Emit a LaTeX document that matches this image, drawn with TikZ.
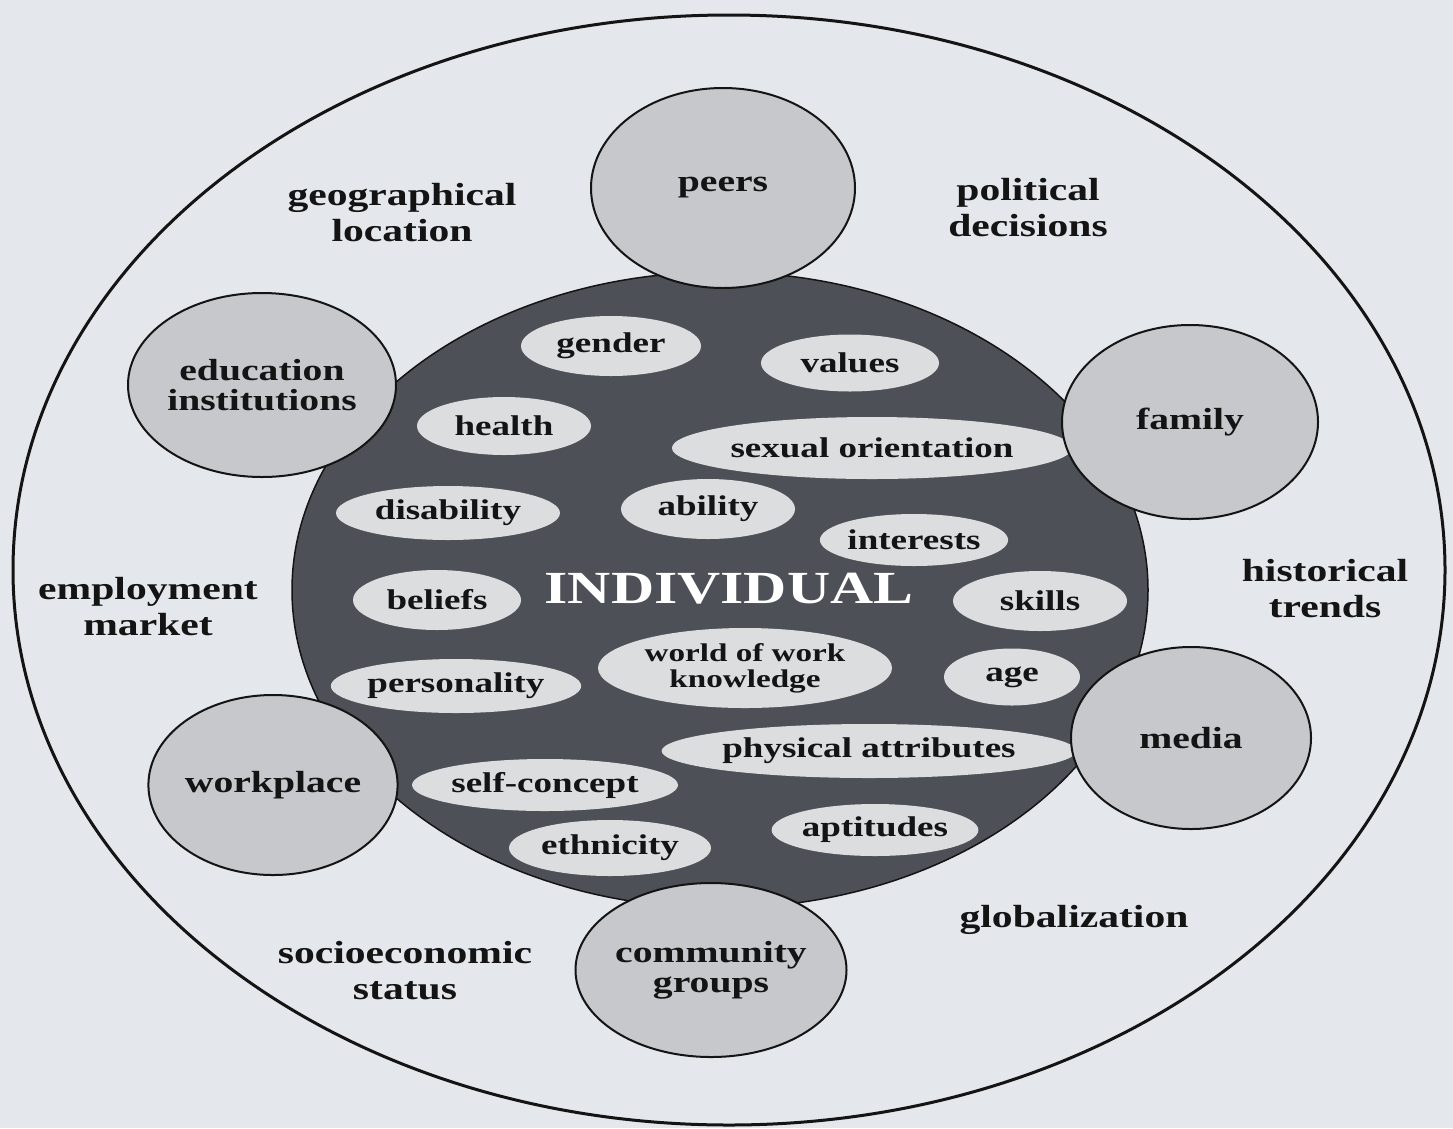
\documentclass[tikz,border=0pt]{standalone}
\usepackage{fontspec}
\setmainfont{Liberation Serif}[FakeStretch=1.3]
\usetikzlibrary{shapes.geometric}
\definecolor{paper}{HTML}{E4E7EB}
\definecolor{ink}{HTML}{141414}
\definecolor{bubblegray}{HTML}{C7C8CB}
\definecolor{coregray}{HTML}{4D5056}
\definecolor{traitgray}{HTML}{DCDDDF}
\tikzset{
  outerlabel/.style={font=\fontsize{32}{36}\selectfont\bfseries, align=center, text=ink, inner sep=0},
  bubble/.style={ellipse, draw=ink, line width=2pt, fill=bubblegray, inner sep=0, text=ink,
    font=\fontsize{30.5}{30}\selectfont\bfseries, align=center},
  trait/.style={ellipse, fill=traitgray, inner sep=0, text=ink,
    font=\fontsize{28.5}{29}\selectfont\bfseries, align=center},
}
\begin{document}
\begin{tikzpicture}[x=1pt,y=-1pt]
\useasboundingbox (0,0) rectangle (1453,1128);
\fill[paper] (0,0) rectangle (1453,1128);
% outer environment
\node[ellipse, draw=ink, line width=3pt, minimum width=1432pt, minimum height=1110pt, inner sep=0] (env) at (729,570) {};
% individual core
\node[ellipse, draw=ink, line width=1.5pt, fill=coregray, minimum width=856pt, minimum height=636pt, inner sep=0] (core) at (720,590) {};
\node[font=\fontsize{46}{46}\selectfont\bfseries, text=white, inner sep=0] (indiv) at (729,589) {INDIVIDUAL};
% traits
\node[trait, minimum width=180pt, minimum height=60pt] (gender) at (611,346) {gender};
\node[trait, minimum width=178pt, minimum height=57pt] (values) at (850,363) {values};
\node[trait, minimum width=174pt, minimum height=58pt] (health) at (504,426) {health};
\node[trait, minimum width=334pt, minimum height=62pt] (sexual) at (872,448) {sexual orientation};
\node[trait, minimum width=224pt, minimum height=54pt] (disab) at (448,513) {disability};
\node[trait, minimum width=174pt, minimum height=60pt] (ability) at (708,509) {ability};
\node[trait, minimum width=172pt, minimum height=52pt] (interests) at (914,540) {interests};
\node[trait, minimum width=168pt, minimum height=60pt] (beliefs) at (437,600) {beliefs};
\node[trait, minimum width=174pt, minimum height=60pt] (skills) at (1040,601) {skills};
\node[trait, minimum width=294pt, minimum height=80pt, font=\fontsize{25.5}{26}\selectfont\bfseries] (wow) at (745,668) {world of work\\knowledge};
\node[trait, minimum width=136pt, minimum height=57pt] (age) at (1012,677) {age};
\node[trait, minimum width=240pt, minimum height=54pt] (person) at (456,686) {personality};
\node[trait, minimum width=318pt, minimum height=54pt] (phys) at (869,751) {physical attributes};
\node[trait, minimum width=266pt, minimum height=52pt] (self) at (545,785) {self-concept};
\node[trait, minimum width=184pt, minimum height=52pt] (apt) at (875,830) {aptitudes};
\node[trait, minimum width=202pt, minimum height=56pt] (ethn) at (610,848) {ethnicity};
% influence bubbles
\node[bubble, minimum width=264pt, minimum height=200pt] (peers) at (723,188) {peers};
\node[bubble, minimum width=232pt, minimum height=184pt] (edu) at (262,385) {education\\institutions};
\node[bubble, minimum width=256pt, minimum height=194pt] (family) at (1190,422) {family};
\node[bubble, minimum width=240pt, minimum height=182pt] (media) at (1191,738) {media};
\node[bubble, minimum width=234pt, minimum height=180pt] (work) at (273,785) {workplace};
\node[bubble, minimum width=240pt, minimum height=174pt] (comm) at (711,970) {community\\groups};
% environmental labels
\node[outerlabel] (geo) at (402,213) {geographical\\location};
\node[outerlabel] (pol) at (1028,208) {political\\decisions};
\node[outerlabel] (empl) at (148,607) {employment\\market};
\node[outerlabel] (hist) at (1325,589) {historical\\trends};
\node[outerlabel] (socio) at (405,971) {socioeconomic\\status};
\node[outerlabel] (glob) at (1074,920) {globalization};
\end{tikzpicture}
\end{document}
